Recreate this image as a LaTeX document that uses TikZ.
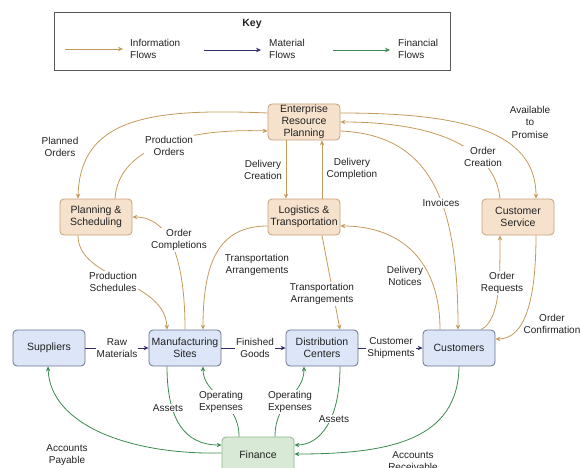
\documentclass[tikz,border=0pt]{standalone}
\usepackage{fontspec}
\setmainfont{Liberation Sans}
\usetikzlibrary{arrows.meta}

\definecolor{ink}{HTML}{222222}
\definecolor{infofill}{HTML}{F5E1CC}
\definecolor{infodraw}{HTML}{C8A07A}
\definecolor{matfill}{HTML}{DCE6F8}
\definecolor{matdraw}{HTML}{67718E}
\definecolor{finfill}{HTML}{D8EAD6}
\definecolor{findraw}{HTML}{8DB58A}
\definecolor{infoc}{HTML}{C49A5C}
\definecolor{matc}{HTML}{2E2E6E}
\definecolor{finc}{HTML}{3B8A50}
\definecolor{keyframe}{HTML}{5A5A5A}

\tikzset{
  box/.style={draw, rounded corners=4pt, minimum width=72pt, minimum height=36pt,
    align=center, line width=0.8pt, inner xsep=1pt, inner ysep=0pt, text=ink,
    font=\fontsize{10.5}{12}\selectfont},
  infobox/.style={box, fill=infofill, draw=infodraw},
  matbox/.style={box, fill=matfill, draw=matdraw},
  finbox/.style={box, fill=finfill, draw=findraw},
  flow/.style={line width=0.8pt, -{Stealth[length=5pt,width=4.5pt]}},
  info/.style={flow, draw=infoc},
  mat/.style={flow, draw=matc},
  fin/.style={flow, draw=finc},
  lbl/.style={align=center, inner sep=1pt, text=ink, font=\fontsize{10}{12.5}\selectfont},
  onlbl/.style={lbl, fill=white},
  keytext/.style={align=left, anchor=west, inner sep=0pt, text=ink, font=\fontsize{10}{12.5}\selectfont},
}

\begin{document}
\begin{tikzpicture}[x=1pt, y=-1pt]
\useasboundingbox (0,0) rectangle (581,468);

% ---- legend ----
\node[draw=keyframe, line width=0.8pt, minimum width=396pt, minimum height=58pt, inner sep=0pt]
  (keybox) at (252,41) {};
\node[text=ink, font=\fontsize{10.5}{12}\selectfont\bfseries] (keytitle) at (252,24) {Key};
\coordinate (ka1) at (65,49);  \coordinate (kb1) at (123,49);
\coordinate (ka2) at (204,50); \coordinate (kb2) at (261,50);
\coordinate (ka3) at (333,50); \coordinate (kb3) at (390,50);
\draw[info] (ka1) -- (kb1);
\draw[mat]  (ka2) -- (kb2);
\draw[fin]  (ka3) -- (kb3);
\node[keytext] (kt1) at (130,49) {Information\\Flows};
\node[keytext] (kt2) at (269,49) {Material\\Flows};
\node[keytext] (kt3) at (398,49) {Financial\\Flows};

% ---- boxes ----
\node[infobox] (erp)  at (304,122) {Enterprise\\Resource\\Planning};
\node[infobox] (plan) at (96,217)  {Planning \&\\Scheduling};
\node[infobox] (log)  at (304,217) {Logistics \&\\Transportation};
\node[infobox] (cs)   at (518,217) {Customer\\Service};
\node[matbox]  (sup)  at (49,348)  {Suppliers};
\node[matbox]  (man)  at (185,348) {Manufacturing\\Sites};
\node[matbox]  (dist) at (322,348) {Distribution\\Centers};
\node[matbox]  (cust) at (459,348) {Customers};
\node[finbox]  (fin)  at (258,455) {Finance};

% ---- information flows ----
\draw[info] ([yshift=9pt]erp.west) .. controls (150,108) and (80,118) .. ([xshift=-18pt]plan.north);
\draw[info] ([xshift=19pt]plan.north) .. controls (118,150) and (180,128) .. ([yshift=-9pt]erp.west);
\draw[info] ([xshift=-18pt]erp.south) -- ([xshift=-18pt]log.north);
\draw[info] ([xshift=18pt]log.north) -- ([xshift=18pt]erp.south);
\draw[info] ([yshift=9pt]erp.east) .. controls (460,113) and (536,130) .. ([xshift=18pt]cs.north);
\draw[info] ([xshift=-18pt]cs.north) .. controls (495,150) and (440,122) .. (erp.east);
\draw[info] ([yshift=-9pt]erp.east) .. controls (430,135) and (458,200) .. ([xshift=-1pt]cust.north);
\draw[info] ([xshift=-19pt]cust.north) .. controls (440,260) and (400,226) .. ([yshift=-9pt]log.east);
\draw[info] ([xshift=22pt]cust.north) .. controls (500,320) and (500,280) .. ([xshift=-18pt]cs.south);
\draw[info] ([xshift=18pt]cs.south) .. controls (536,300) and (525,339) .. ([yshift=9pt]cust.east);
\draw[info] ([xshift=-18pt]plan.south) .. controls (78,280) and (165,280) .. ([xshift=-18pt]man.north);
\draw[info] (man.north) .. controls (185,260) and (170,217) .. (plan.east);
\draw[info] ([yshift=-9pt]log.west) .. controls (220,226) and (203,260) .. ([xshift=18pt]man.north);
\draw[info] ([xshift=18pt]log.south) -- ([xshift=18pt]dist.north);

% ---- material flows ----
\draw[mat] (sup.east) -- (man.west);
\draw[mat] (man.east) -- (dist.west);
\draw[mat] (dist.east) -- (cust.west);

% ---- financial flows ----
\draw[fin] ([yshift=2pt]fin.west) .. controls (130,455) and (50,425) .. ([xshift=-1pt]sup.south);
\draw[fin] ([xshift=-18pt]man.south) .. controls (167,420) and (185,445) .. ([yshift=10pt]fin.west);
\draw[fin] ([xshift=-19pt]fin.north) .. controls (239,400) and (203,395) .. ([xshift=18pt]man.south);
\draw[fin] ([xshift=17pt]fin.north) .. controls (275,400) and (304,395) .. ([xshift=-18pt]dist.south);
\draw[fin] ([xshift=18pt]dist.south) .. controls (340,420) and (320,445) .. ([yshift=10pt]fin.east);
\draw[fin] (cust.south) .. controls (458,440) and (390,454) .. ([yshift=1pt]fin.east);

% ---- flow labels ----
\node[lbl]   (lplanned)  at (60,147)  {Planned\\Orders};
\node[onlbl] (lprodord)  at (169,146) {Production\\Orders};
\node[lbl]   (ldelcre)   at (263,170) {Delivery\\Creation};
\node[lbl]   (ldelcom)   at (352,169) {Delivery\\Completion};
\node[lbl]   (latp)      at (530,122) {Available\\to\\Promise};
\node[onlbl] (lordcre)   at (483,157) {Order\\Creation};
\node[onlbl] (linv)      at (441,203) {Invoices};
\node[lbl]   (ldelnot)   at (405,276) {Delivery\\Notices};
\node[onlbl] (lordreq)   at (502,283) {Order\\Requests};
\node[lbl]   (lordconf)  at (552,324) {Order\\Confirmation};
\node[onlbl] (lprodsch)  at (113,282) {Production\\Schedules};
\node[onlbl] (lordcomp)  at (179,240) {Order\\Completions};
\node[lbl]   (ltrans1)   at (257,265) {Transportation\\Arrangements};
\node[onlbl] (ltrans2)   at (322,294) {Transportation\\Arrangements};
\node[onlbl] (lraw)      at (117,348) {Raw\\Materials};
\node[onlbl] (lfin)      at (255,348) {Finished\\Goods};
\node[onlbl] (lship)     at (391,348) {Customer\\Shipments};
\node[lbl]   (lpay)      at (67,455)  {Accounts\\Payable};
\node[onlbl] (lassets1)  at (168,408) {Assets};
\node[onlbl] (lopex1)    at (221,402) {Operating\\Expenses};
\node[onlbl] (lopex2)    at (290,402) {Operating\\Expenses};
\node[onlbl] (lassets2)  at (334,419) {Assets};
\node[lbl]   (lrec)      at (413,461) {Accounts\\Receivable};
\end{tikzpicture}
\end{document}
